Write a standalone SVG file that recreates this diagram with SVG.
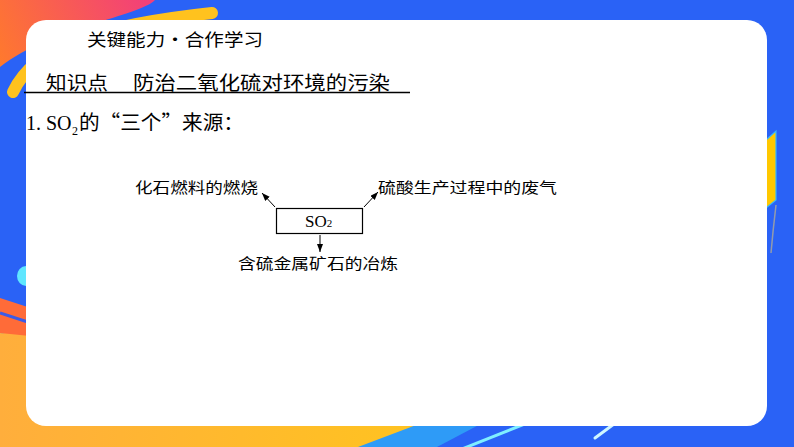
<svg xmlns="http://www.w3.org/2000/svg" width="794" height="447" viewBox="0 0 794 447">
<defs>
<linearGradient id="gRed" x1="0" y1="70" x2="150" y2="0" gradientUnits="userSpaceOnUse">
<stop offset="0" stop-color="#FF7A2C"/><stop offset="1" stop-color="#F23F7A"/>
</linearGradient>
<linearGradient id="gYel" x1="0" y1="0" x2="440" y2="0" gradientUnits="userSpaceOnUse">
<stop offset="0" stop-color="#FFAE3C"/><stop offset="1" stop-color="#FFC41F"/>
</linearGradient>
<marker id="ah" markerWidth="9" markerHeight="7" refX="8" refY="3" orient="auto" markerUnits="userSpaceOnUse">
<path d="M0,0 L8,3 L0,6 Z" fill="#000"/>
</marker>
<style>
.cn{font-family:"Noto Sans CJK SC","Noto Sans",sans-serif;fill:#000}
.lat{font-family:"Liberation Serif","DejaVu Serif",serif;fill:#000}
.lbl{font-size:15px}
.conn{stroke:#000;stroke-width:1;fill:none;marker-end:url(#ah)}
</style>
</defs>
<!-- background -->
<rect width="794" height="447" fill="#2A62F6"/>
<path d="M0,0 H155 C140,16 50,28 0,67 Z" fill="url(#gRed)"/>
<path d="M13,92 C35,45 100,25 212,13" stroke="#FFC21E" stroke-width="12" stroke-linecap="round" fill="none"/>
<ellipse cx="26" cy="276" rx="9" ry="10" fill="#5FE6FF"/>
<polygon points="0,298 40,311 40,342 0,333" fill="#FF6B38"/>
<line x1="0" y1="313" x2="40" y2="326" stroke="#3B5BE6" stroke-width="3"/>
<polygon points="300,447 400,400 526,400 437,447" fill="#2E9BF7"/>
<polygon points="0,333 40,337 440,416 358,447 0,447" fill="url(#gYel)"/>
<line x1="462" y1="449" x2="532" y2="421" stroke="#7FEFFF" stroke-width="3"/>
<line x1="595" y1="438" x2="618" y2="421" stroke="#CFF6FF" stroke-width="3" stroke-linecap="round"/>
<polygon points="766,140 776,131 776,200 766,208" fill="#FFC800" stroke="#35B6FF" stroke-width="1.2"/>
<path d="M776,205 Q773,230 771,253" stroke="#D9C27A" stroke-width="1.5" fill="none" opacity="0.6"/>
<rect x="26" y="20" width="741" height="406" rx="20" fill="#FFFFFF"/>
<!-- page texts -->
<text class="cn" x="87" y="46" font-size="17" textLength="176" lengthAdjust="spacingAndGlyphs">关键能力·合作学习</text>
<text class="cn" x="46" y="90" font-size="19" textLength="62" lengthAdjust="spacingAndGlyphs">知识点</text>
<text class="cn" x="133" y="90" font-size="19" textLength="257" lengthAdjust="spacingAndGlyphs">防治二氧化硫对环境的污染</text>
<line x1="24" y1="92.5" x2="410" y2="92.5" stroke="#000" stroke-width="1.5"/>
<text class="lat" x="26" y="130" font-size="20">1. SO</text>
<text class="lat" x="72" y="135" font-size="12">2</text>
<text class="cn" x="79" y="130" font-size="20" textLength="165" lengthAdjust="spacingAndGlyphs">的“三个”来源：</text>
<!-- connectors -->
<g id="connectors">
<line class="conn" x1="275" y1="207" x2="262" y2="193"/>
<line class="conn" x1="364" y1="207" x2="378" y2="192"/>
<line class="conn" x1="320" y1="235" x2="320" y2="252"/>
</g>
<!-- nodes -->
<g id="node-so2">
<rect x="276.5" y="208.5" width="86" height="25" fill="#fff" stroke="#000" stroke-width="1.2"/>
<text class="lat" x="305" y="227" font-size="17">SO<tspan font-size="11">2</tspan></text>
</g>
<g id="node-fossil">
<text class="cn lbl" x="135" y="193" textLength="123" lengthAdjust="spacingAndGlyphs">化石燃料的燃烧</text>
</g>
<g id="node-acid">
<text class="cn lbl" x="378" y="193" textLength="179" lengthAdjust="spacingAndGlyphs">硫酸生产过程中的废气</text>
</g>
<g id="node-ore">
<text class="cn lbl" x="238" y="269" textLength="160" lengthAdjust="spacingAndGlyphs">含硫金属矿石的冶炼</text>
</g>
</svg>
